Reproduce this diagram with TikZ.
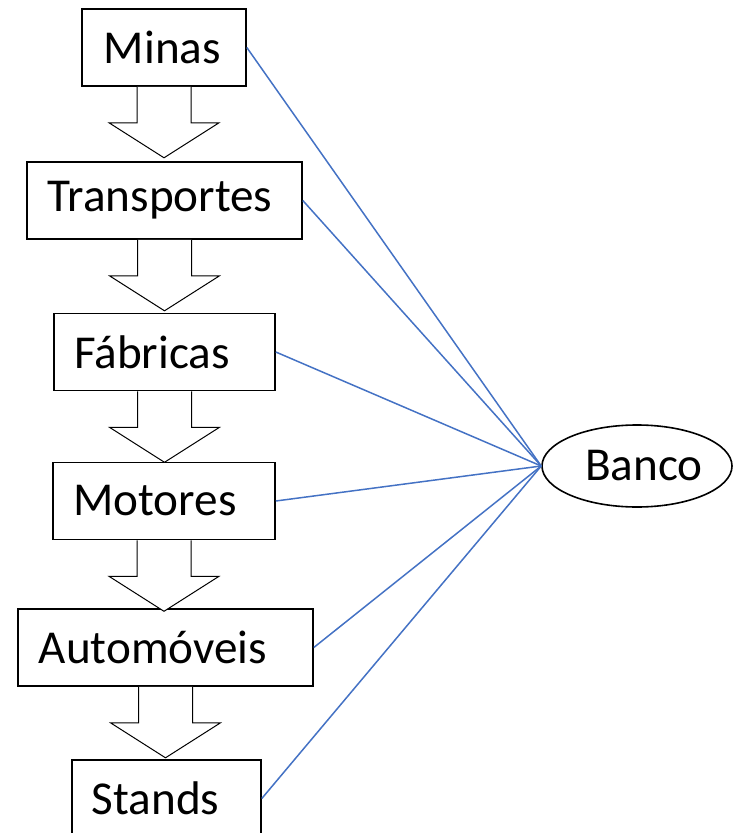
\documentclass[tikz,border=0pt]{standalone}
\usepackage{fontspec}
\setmainfont{Carlito}
\usetikzlibrary{
    shapes.geometric,
    calc
}
\definecolor{link blue}{RGB}{68,114,196}
\tikzset{
    % Boxes
    stage/.style={draw=black,line width=0.8pt,minimum height=38.5pt,inner sep=0pt},
    bank/.style={draw=black,line width=0.8pt,ellipse,minimum width=95pt,minimum height=41pt,inner sep=0pt},
    %
    % Connectors
    link/.style={link blue,line width=0.75pt},
    block arrow/.style={draw=black,line width=0.5pt,fill=white},
}
\tikzstyle{every node}=[font=\fontsize{23.6pt}{28pt}\selectfont]

\begin{document}
\begin{tikzpicture}[x=0.5pt,y=-0.5pt]
        \useasboundingbox (0,0) rectangle (732,833);
        % the chain
        \node[stage,minimum width=82pt] (minas) at (164,47.5) {Minas\kern1.5pt};
        \node[stage,minimum width=137.5pt] (transp) at (164.5,200.5) {Transportes\kern4.5pt};
        \node[stage,minimum width=110.5pt] (fabr) at (164.5,352) {F\'abricas\kern12.5pt};
        \node[stage,minimum width=111pt] (motor) at (164,501) {Motores\kern9pt};
        \node[stage,minimum width=147.5pt] (auto) at (165.5,647.5) {Autom\'oveis\kern12.5pt};
        \node[stage,minimum width=94.5pt] (stands) at (166.5,798.5) {Stands\kern11pt};
        \node[bank] (banco) at (637,466) {\kern7pt Banco};
        % hollow arrows between stages
        \foreach \a in {minas,transp,fabr,motor,auto} {
            \draw[block arrow] ($(\a.south)+(-27,0)$) -- ++(0,36) -- ++(-28,0)
                -- ($(\a.south)+(0,71)$) -- ($(\a.south)+(55,36)$) -- ++(-28,0) -- ++(0,-36);
        };
        % links to the bank
        \foreach \a in {minas,transp,fabr,motor,auto,stands} {
            \draw[link] (\a.east) -- (banco.west);
        };
    \end{tikzpicture}
\end{document}
